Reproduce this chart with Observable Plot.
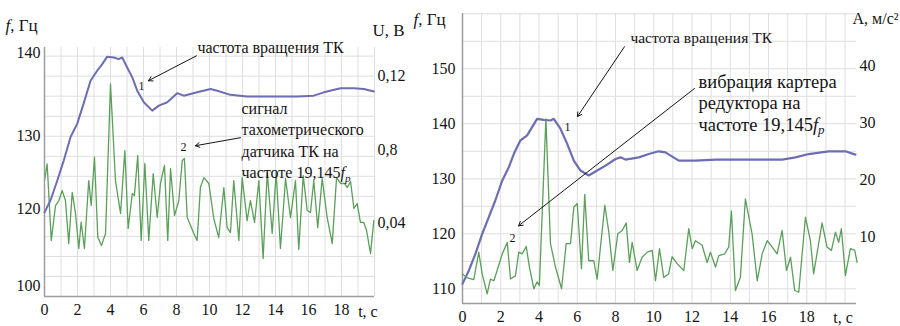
<!DOCTYPE html>
<html><head><meta charset="utf-8">
<script src="https://cdn.jsdelivr.net/npm/d3@7"></script>
<script src="https://cdn.jsdelivr.net/npm/@observablehq/plot@0.6"></script>
<style>
body{margin:0;background:#fff;}
#c{position:relative;width:900px;height:326px;overflow:hidden;background:#fff;}
#c svg{position:absolute;left:0;top:0;}
#c svg, #c svg text, #c svg g{font-family:"Liberation Serif","Times New Roman",serif !important;}
</style></head><body><div id="c"></div>
<script>
// ---------- data ----------
const xTicks = [0, 2, 4, 6, 8, 10, 12, 14, 16, 18];

// left panel: rotation frequency of TK (Hz)
const leftFreqTime = [0,0.36,0.77,1.17,1.58,1.98,2.38,2.79,3.19,3.5,3.8,4.2,4.5,4.71,5.01,5.32,5.62,6.02,6.53,6.93,7.44,8.04,8.44,9.25,10.06,10.47,11.27,12.28,13.29,14.3,15.32,16.32,16.93,17.94,18.75,19.35,19.96];
const leftFreqHz = [119.0,121.1,123.8,126.6,129.8,131.4,133.9,136.6,137.8,138.6,139.5,139.4,139.2,139.4,138.2,137.0,135.4,134.0,133.0,133.6,134.0,135.1,134.8,135.2,135.6,135.4,134.9,134.7,134.7,134.7,134.7,134.8,135.2,135.7,135.7,135.6,135.3];
// left panel: tachometer signal (V)
const leftSignalTime = [0.00,0.16,0.41,0.67,0.87,1.07,1.27,1.47,1.68,1.88,2.08,2.22,2.42,2.68,2.83,3.03,3.23,3.45,3.70,4.00,4.30,4.61,4.87,5.07,5.32,5.45,5.65,5.86,6.08,6.32,6.59,6.83,7.03,7.27,7.47,7.64,7.88,8.14,8.35,8.48,8.65,9.05,9.25,9.45,9.66,9.96,10.26,10.56,10.87,11.07,11.27,11.47,11.78,11.98,12.28,12.48,12.73,12.99,13.25,13.5,13.8,14.04,14.3,14.61,14.91,15.21,15.41,15.68,15.92,16.12,16.32,16.56,16.83,17.13,17.44,17.7,17.94,18.18,18.35,18.55,18.75,18.95,19.15,19.35,19.52,19.76,19.96];
const leftSignalU = [0.0631,0.0722,0.0305,0.0495,0.0522,0.0577,0.0522,0.0288,0.0567,0.0452,0.0261,0.0404,0.0261,0.0631,0.0495,0.0758,0.0323,0.0277,0.0343,0.1157,0.0631,0.0452,0.0794,0.0370,0.0560,0.0549,0.0767,0.0305,0.0724,0.0305,0.0669,0.0430,0.0615,0.0713,0.0305,0.0696,0.0441,0.0522,0.0740,0.0751,0.0430,0.0343,0.0305,0.0595,0.0647,0.0615,0.0424,0.0321,0.0593,0.0375,0.0348,0.0631,0.0305,0.0647,0.0413,0.0522,0.0403,0.0631,0.0207,0.0675,0.0343,0.0675,0.0261,0.0642,0.0430,0.0631,0.0256,0.0658,0.0468,0.0457,0.0631,0.0375,0.0642,0.0430,0.0288,0.0647,0.0615,0.0615,0.0593,0.0626,0.0479,0.0506,0.0403,0.0403,0.0359,0.0234,0.0413];
const leftFTicks = [100, 120, 130, 140];
const leftUTicks = [0.04, 0.08, 0.12];
const leftUTickLabels = ["0,04", "0,8", "0,12"];

// right panel: rotation frequency of TK (Hz)
const rightFreqTime = [0,0.33,0.68,1.03,1.37,1.72,2.08,2.42,2.68,3.03,3.38,3.64,3.90,4.25,4.60,4.77,5.12,5.47,5.82,6.17,6.6,7.04,7.48,8.0,8.26,8.52,9.22,9.74,10.26,10.61,11.31,12.18,13.23,14.46,15.67,16.71,17.41,18.1,19.15,20.02,20.54];
const rightFreqHz = [110.9,113.3,116.4,120.0,123.0,126.1,129.7,132.1,134.5,137.0,137.9,139.4,140.9,140.7,140.6,140.9,139.1,136.4,133.3,131.5,130.6,131.5,132.4,133.6,133.9,133.5,133.9,134.5,135.0,134.8,133.3,133.3,133.5,133.5,133.5,133.5,133.9,134.5,135.0,135.0,134.4];
// right panel: gearbox housing vibration (m/s^2)
const rightVibTime = [0,0.25,0.59,0.85,1.03,1.29,1.46,1.64,1.81,2.08,2.34,2.51,2.77,2.94,3.12,3.33,3.50,3.73,3.90,4.02,4.36,4.6,4.86,5.18,5.42,5.65,5.82,6.0,6.22,6.39,6.6,6.86,7.04,7.44,7.65,7.86,8.12,8.35,8.56,8.73,8.87,9.13,9.39,9.66,9.92,10.09,10.3,10.52,10.78,10.96,11.22,11.57,11.83,12.01,12.18,12.53,12.79,12.96,13.23,13.4,13.71,13.92,14.06,14.27,14.53,14.79,15.14,15.41,15.67,15.93,16.19,16.45,16.71,16.94,17.15,17.37,17.58,17.93,18.19,18.36,18.8,19.06,19.29,19.5,19.67,19.81,20.02,20.28,20.51,20.63];
const rightVibA = [3.6,2.9,2.6,7.4,3.6,0.1,2.7,2.4,4.2,7.1,9.1,2.7,3.3,7.4,7.1,8.4,4.8,1.0,2.2,1.6,30.7,8.9,4.8,1.0,8.9,8.9,15.3,15.9,4.5,17.5,5.9,5.9,2.7,15.6,10.9,4.2,10.6,11.2,12.5,5.6,9.1,4.2,6.5,7.4,7.7,2.4,8.0,3.0,3.6,6.6,5.4,4.2,11.5,8.0,9.4,8.6,5.6,7.4,4.8,6.8,7.1,8.3,14.6,0.7,3.0,16.7,10.6,2.4,7.1,9.4,8.3,7.1,11.2,4.2,6.5,0.7,0.4,13.5,9.4,3.6,12.5,8.3,7.7,10.9,9.1,11.5,3.3,8.0,7.7,5.6];
const rightFTicks = [110, 120, 130, 140, 150];
const rightATicks = [10, 20, 30, 40];

// ---------- drawing ----------
const leftFreq = d3.zip(leftFreqTime, leftFreqHz).map(([t, v]) => ({t, v}));
const leftSignal = d3.zip(leftSignalTime, leftSignalU).map(([t, v]) => ({t, v}));
const rightFreq = d3.zip(rightFreqTime, rightFreqHz).map(([t, v]) => ({t, v}));
const rightVib = d3.zip(rightVibTime, rightVibA).map(([t, v]) => ({t, v}));

const FONT = '"Liberation Serif", "Times New Roman", serif';
const BLUE = "#6d6db4", GREEN = "#5a9f5a", GRID = "#dedede", AXIS = "#9c9c9c", INK = "#141414";
const W = 900, H = 326;
const style = {background: "transparent", fontFamily: FONT, fontSize: "15px", color: INK, overflow: "visible"};
const c = document.getElementById("c");

function fix(svg) {
  svg.querySelectorAll("text, tspan").forEach(el => {
    if (el.children.length) return;
    const s = el.textContent;
    if (s === "f, Гц") el.innerHTML = '<tspan font-style="italic">f</tspan>, Гц';
    else if (s.includes("19,145fр")) el.innerHTML = s.replace("19,145fр", '19,145<tspan font-style="italic">f</tspan><tspan font-style="italic" font-size="70%" dy="0.3em">р</tspan>');
  });
  c.append(svg);
}

// LEFT PANEL
const L = {marginLeft: 44, marginRight: 526, marginTop: 47, marginBottom: 30};
// layer 1: grid + tachometer signal + right axis (U, В)
fix(Plot.plot({
  width: W, height: H, ...L, style,
  x: {domain: [0, 20], axis: null, label: null},
  y: {domain: [0, 0.1355], label: null},
  marks: [
    Plot.gridX(d3.range(0, 21, 1), {stroke: GRID, strokeOpacity: 1}),
    Plot.gridY(d3.range(0.0109, 0.136, 0.0109), {stroke: GRID, strokeOpacity: 1}),
    Plot.line(leftSignal, {x: "t", y: "v", stroke: GREEN, strokeWidth: 1.3}),
    Plot.axisY(leftUTicks, {anchor: "right", label: null, tickSize: 0, tickPadding: 3, fontSize: 16,
      tickFormat: d => leftUTickLabels[leftUTicks.indexOf(d)]}),
    Plot.text(["U, В"], {frameAnchor: "top-right", textAnchor: "start", lineAnchor: "middle", dx: -2, dy: -17, fontSize: 17})
  ]
}));
// layer 2: axes + frequency + annotations
fix(Plot.plot({
  width: W, height: H, ...L, style,
  x: {domain: [0, 20], label: null},
  y: {type: "linear", domain: [97.1, 100, 120, 130, 140, 140.6], range: [296, 285, 208, 135, 52, 47], label: null},
  marks: [
    Plot.ruleX([0], {stroke: AXIS, strokeWidth: 1.5}),
    Plot.ruleY([97.1], {stroke: AXIS, strokeWidth: 1.5}),
    Plot.line(leftFreq, {x: "t", y: "v", stroke: BLUE, strokeWidth: 2}),
    Plot.axisY(leftFTicks, {anchor: "left", label: null, tickSize: 0, tickPadding: 4, fontSize: 16}),
    Plot.axisX(xTicks, {anchor: "bottom", label: null, tickSize: 0, tickPadding: 7, fontSize: 16}),
    Plot.text(["t, c"], {x: 19.6, frameAnchor: "bottom", lineAnchor: "middle", dy: 15, fontSize: 16}),
    Plot.text(["f, Гц"], {frameAnchor: "top-left", textAnchor: "start", lineAnchor: "middle", dx: -39, dy: -22, fontSize: 17}),
    Plot.text(["частота вращения ТК"], {x: 9.27, y: 140.5, textAnchor: "start", fontSize: 16}),
    Plot.arrow([0], {x1: 9.21, y1: 139.6, x2: 6.3, y2: 136.6, stroke: INK, strokeWidth: 1, headLength: 7}),
    Plot.text(["1"], {x: 5.88, y: 135.9, fontSize: 12}),
    Plot.text(["сигнал\nтахометрического\nдатчика ТК на\nчастоте 19,145fр"], {x: 11.94, y: 129.5, textAnchor: "start", fontSize: 16, lineHeight: 1.35}),
    Plot.arrow([0], {x1: 11.88, y1: 129.7, x2: 9.15, y2: 128.6, stroke: INK, strokeWidth: 1, headLength: 7}),
    Plot.text(["2"], {x: 8.42, y: 128.4, fontSize: 12})
  ]
}));

// RIGHT PANEL
const R = {marginLeft: 462, marginRight: 44, marginTop: 13, marginBottom: 23};
// layer 1: grid + axes + frequency
fix(Plot.plot({
  width: W, height: H, ...R, style,
  x: {domain: [0, 20.6], label: null},
  y: {domain: [107.33, 160.05], label: null},
  marks: [
    Plot.gridX(d3.range(0, 21, 1), {stroke: GRID, strokeOpacity: 1}),
    Plot.gridY(d3.range(110, 161, 5), {stroke: GRID, strokeOpacity: 1}),
    Plot.ruleX([0], {stroke: AXIS, strokeWidth: 1.5}),
    Plot.ruleY([107.33], {stroke: AXIS, strokeWidth: 1.5}),
    Plot.line(rightFreq, {x: "t", y: "v", stroke: BLUE, strokeWidth: 2.2}),
    Plot.axisY(rightFTicks, {anchor: "left", label: null, tickSize: 0, tickPadding: 7, fontSize: 16}),
    Plot.axisX(xTicks, {anchor: "bottom", label: null, tickSize: 0, tickPadding: 7, fontSize: 16}),
    Plot.text(["t, c"], {x: 19.9, frameAnchor: "bottom", lineAnchor: "middle", dy: 14, fontSize: 16}),
    Plot.text(["f, Гц"], {frameAnchor: "top-left", textAnchor: "start", lineAnchor: "middle", dx: -49, dy: 6, fontSize: 17})
  ]
}));
// layer 2: vibration + right axis + annotations
fix(Plot.plot({
  width: W, height: H, ...R, style,
  x: {domain: [0, 20.6], axis: null, label: null},
  y: {domain: [-1.57, 49.1], label: null},
  marks: [
    Plot.line(rightVib, {x: "t", y: "v", stroke: GREEN, strokeWidth: 1.3}),
    Plot.axisY(rightATicks, {anchor: "right", label: null, tickSize: 0, tickPadding: 3, fontSize: 16}),
    Plot.text(["A, м/с²"], {frameAnchor: "top-right", textAnchor: "start", lineAnchor: "middle", dx: -4, dy: 5, fontSize: 16}),
    Plot.text(["частота вращения ТК"], {x: 8.78, y: 44.9, textAnchor: "start", fontSize: 15.5}),
    Plot.arrow([0], {x1: 8.47, y1: 43.3, x2: 6.01, y2: 31.1, stroke: INK, strokeWidth: 1, headLength: 7}),
    Plot.text(["1"], {x: 5.49, y: 29.2, fontSize: 12}),
    Plot.text(["вибрация картера\nредуктора на\nчастоте 19,145fр"], {x: 12.34, y: 33.6, textAnchor: "start", fontSize: 18.5, lineHeight: 1.16}),
    Plot.arrow([0], {x1: 12.13, y1: 36.0, x2: 2.93, y2: 12.0, stroke: INK, strokeWidth: 1, headLength: 7}),
    Plot.text(["2"], {x: 2.61, y: 9.9, fontSize: 12})
  ]
}));
</script></body></html>
